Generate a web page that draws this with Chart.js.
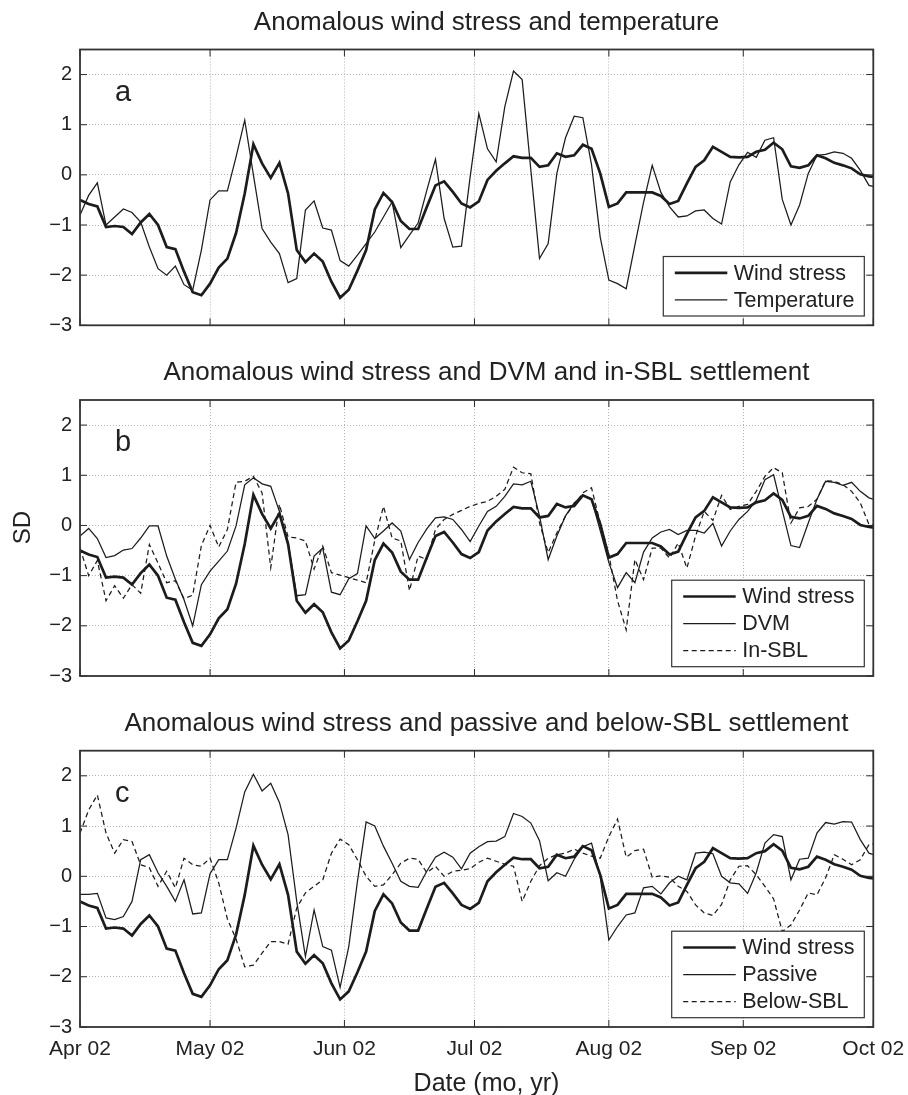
<!DOCTYPE html>
<html><head><meta charset="utf-8">
<script src="https://cdn.jsdelivr.net/npm/chart.js@4.4.1/dist/chart.umd.min.js"></script>
<style>
html,body{margin:0;padding:0;background:#fff;}
#wrap{position:relative;width:908px;height:1095px;overflow:hidden;background:#fff;}
canvas{position:absolute;left:0;}
</style></head><body>
<div id="wrap">
<canvas id="pa" width="908" height="345" style="top:0px"></canvas>
<canvas id="pb" width="908" height="345" style="top:350px"></canvas>
<canvas id="pc" width="908" height="395" style="top:700px"></canvas>
</div>
<script>
// ---- data (days since Apr 1 2002, sampled every 2 days) ----
const days = [0,2,4,6,8,10,12,14,16,18,20,22,24,26,28,30,32,34,36,38,40,42,44,46,48,50,52,54,56,58,
  60,62,64,66,68,70,72,74,76,78,80,82,84,86,88,90,92,94,96,98,100,102,104,106,108,110,112,114,116,118,
  120,122,124,126,128,130,132,134,136,138,140,142,144,146,148,150,152,154,156,158,160,162,164,166,168,170,
  172,174,176,178,180,182,184];

const windStress = [-0.50,-0.58,-0.63,-1.04,-1.02,-1.04,-1.18,-0.95,-0.78,-1.00,
  -1.44,-1.48,-1.93,-2.34,-2.40,-2.17,-1.85,-1.67,-1.16,-0.37,
  0.61,0.23,-0.06,0.24,-0.37,-1.50,-1.74,-1.57,-1.73,-2.13,
  -2.45,-2.29,-1.91,-1.50,-0.69,-0.36,-0.54,-0.92,-1.08,-1.08,
  -0.64,-0.21,-0.13,-0.34,-0.57,-0.65,-0.53,-0.10,0.08,0.23,
  0.37,0.34,0.34,0.16,0.19,0.43,0.36,0.39,0.60,0.52,
  0.03,-0.64,-0.57,-0.35,-0.35,-0.35,-0.35,-0.42,-0.58,-0.52,
  -0.17,0.16,0.29,0.56,0.46,0.36,0.35,0.36,0.46,0.50,
  0.64,0.51,0.17,0.14,0.19,0.39,0.33,0.24,0.19,0.13,
  0.01,-0.03,-0.05];

const temperature = [-0.80,-0.41,-0.16,-1.00,-0.84,-0.68,-0.75,-0.94,-1.44,-1.87,
  -2.00,-1.82,-2.19,-2.30,-1.50,-0.50,-0.32,-0.32,0.36,1.09,
  0.00,-1.07,-1.34,-1.57,-2.15,-2.07,-0.70,-0.52,-1.06,-1.10,
  -1.71,-1.82,-1.60,-1.37,-1.14,-0.84,-0.54,-1.45,-1.20,-0.96,
  -0.31,0.31,-0.87,-1.44,-1.42,-0.04,1.22,0.52,0.26,1.36,
  2.07,1.90,0.10,-1.67,-1.37,0.03,0.74,1.17,1.14,0.20,
  -1.24,-2.10,-2.17,-2.27,-1.40,-0.55,0.19,-0.35,-0.64,-0.84,
  -0.82,-0.72,-0.70,-0.87,-0.98,-0.14,0.20,0.45,0.35,0.69,
  0.74,-0.49,-1.00,-0.60,0.03,0.39,0.41,0.46,0.43,0.33,
  0.09,-0.21,-0.25];

const dvm = [-0.21,-0.06,-0.26,-0.64,-0.60,-0.49,-0.46,-0.25,-0.01,-0.01,
  -0.61,-1.07,-1.48,-2.00,-1.18,-0.91,-0.71,-0.51,-0.01,0.81,
  0.95,0.83,0.78,0.28,-0.34,-1.40,-1.38,-0.61,-0.45,-1.33,
  -1.38,-1.06,-0.96,-0.01,-0.26,-0.11,0.05,-0.11,-0.68,-0.34,
  -0.07,0.15,0.17,0.12,-0.08,-0.32,-0.01,0.28,0.38,0.58,
  0.83,0.81,0.88,0.19,-0.68,-0.21,0.19,0.45,0.60,0.52,
  -0.10,-0.74,-1.24,-0.94,-1.14,-0.53,-0.25,-0.13,-0.08,-0.18,
  -0.10,-0.10,-0.15,0.04,-0.41,-0.11,0.12,0.28,0.50,0.91,
  1.01,0.30,-0.40,-0.44,0.05,0.52,0.88,0.86,0.80,0.86,
  0.68,0.55,0.50];

const inSbl = [-0.45,-1.00,-0.70,-1.50,-1.20,-1.45,-1.18,-1.35,-0.38,-0.75,
  -1.14,-1.10,-1.46,-1.39,-0.40,0.00,-0.43,-0.08,0.86,0.88,
  0.98,0.65,-0.84,0.42,-0.23,-0.25,-0.31,-0.87,-0.41,-0.94,
  -0.99,-1.04,-1.09,-1.14,-0.30,0.38,-0.25,-0.31,-1.30,-0.61,
  -0.68,-0.08,0.12,0.22,0.30,0.38,0.44,0.48,0.58,0.72,
  1.16,1.05,1.03,0.05,-0.54,-0.15,0.19,0.42,0.65,0.75,
  0.05,-0.58,-1.50,-2.08,-0.68,-1.08,-0.45,-0.45,-0.65,-0.35,
  -0.85,-0.21,0.28,0.10,0.60,0.32,0.38,0.42,0.68,0.98,
  1.15,1.05,0.05,0.35,0.38,0.52,0.89,0.88,0.81,0.68,
  0.45,0.02,0.00];

const passive = [-0.36,-0.36,-0.34,-0.83,-0.86,-0.80,-0.50,0.33,0.43,0.07,
  -0.20,-0.50,-0.07,-0.75,-0.73,0.05,0.33,0.33,0.96,1.68,
  2.03,1.70,1.85,1.47,0.83,-0.50,-1.60,-0.67,-1.40,-1.47,
  -2.21,-1.40,-0.10,1.08,1.00,0.60,0.26,-0.10,-0.20,-0.22,
  0.10,0.38,0.48,0.38,0.15,0.46,0.59,0.69,0.70,0.79,
  1.25,1.19,1.06,0.71,-0.09,0.07,0.00,0.34,0.59,0.66,
  0.00,-1.27,-1.00,-0.77,-0.73,-0.23,-0.20,-0.35,-0.13,0.00,
  -0.07,0.46,0.48,0.45,0.00,-0.13,-0.15,-0.34,0.07,0.66,
  0.83,0.79,-0.07,0.34,0.36,0.86,1.07,1.04,1.09,1.08,
  0.73,0.46,0.40];

const belowSbl = [0.86,1.32,1.62,0.86,0.46,0.73,0.69,0.23,0.17,-0.20,
  0.10,-0.23,0.36,0.23,0.20,0.36,-0.13,-0.85,-1.25,-1.80,
  -1.77,-1.53,-1.30,-1.30,-1.35,-0.63,-0.33,-0.20,-0.07,0.46,
  0.74,0.63,0.33,0.00,-0.20,-0.17,0.03,0.26,0.36,0.34,
  0.07,0.20,0.00,0.10,0.12,0.15,0.28,0.36,0.30,0.24,
  0.20,-0.50,-0.10,0.21,0.36,0.43,0.46,0.54,0.46,0.40,
  0.36,0.79,1.14,0.38,0.51,0.54,-0.02,0.01,-0.02,-0.20,
  -0.30,-0.57,-0.73,-0.78,-0.56,-0.07,0.20,0.21,0.03,-0.20,
  -0.45,-1.10,-0.97,-0.67,-0.33,-0.37,-0.03,0.43,0.34,0.23,
  0.33,0.63,0.65];

const monthTickDays = [0,30,61,91,122,153,183];
const monthTickLabels = ['Apr 02','May 02','Jun 02','Jul 02','Aug 02','Sep 02','Oct 02'];
const yTickValues = [-3,-2,-1,0,1,2];
const panelTitles = ['Anomalous wind stress and temperature',
  'Anomalous wind stress and DVM and in-SBL settlement',
  'Anomalous wind stress and passive and below-SBL settlement'];
const panelLetters = ['a','b','c'];
const seriesNames = {wind:'Wind stress', temp:'Temperature', dvm:'DVM', insbl:'In-SBL', passive:'Passive', below:'Below-SBL'};
const xAxisTitle = 'Date (mo, yr)';
const yAxisTitle = 'SD';

// ---- styling ----
const FONT = '"Liberation Sans", Arial, Helvetica, sans-serif';
const INK = '#1c1c1c';
const STYLE_THICK = {borderWidth: 2.7, borderDash: []};
const STYLE_THIN = {borderWidth: 1.25, borderDash: []};
const STYLE_DASH = {borderWidth: 1.25, borderDash: [5, 3.5]};

const decor = {
  id: 'decor',
  afterDraw(chart, args, o) {
    const ctx = chart.ctx, a = chart.chartArea;
    const xs = chart.scales.x, ys = chart.scales.y;
    ctx.save();
    ctx.setLineDash([]);
    // inward ticks
    ctx.strokeStyle = '#2a2a2a'; ctx.lineWidth = 1;
    ctx.beginPath();
    xs.ticks.forEach(t => {
      const px = xs.getPixelForValue(t.value);
      ctx.moveTo(px, a.bottom); ctx.lineTo(px, a.bottom - 7);
      ctx.moveTo(px, a.top); ctx.lineTo(px, a.top + 7);
    });
    ys.ticks.forEach(t => {
      const py = ys.getPixelForValue(t.value);
      ctx.moveTo(a.left, py); ctx.lineTo(a.left + 7, py);
      ctx.moveTo(a.right, py); ctx.lineTo(a.right - 7, py);
    });
    ctx.stroke();
    // frame
    ctx.lineWidth = 1.8; ctx.strokeStyle = '#333';
    ctx.strokeRect(a.left, a.top, a.right - a.left, a.bottom - a.top);
    // title
    ctx.fillStyle = '#222';
    ctx.font = '26px ' + FONT;
    ctx.textAlign = 'center'; ctx.textBaseline = 'alphabetic';
    ctx.fillText(o.title, o.titleX, a.top - 20);
    // panel letter
    ctx.font = '29px ' + FONT;
    ctx.textAlign = 'left';
    ctx.fillText(o.letter, a.left + 35, a.top + 51);
    // legend
    const ds = chart.data.datasets;
    const n = ds.length;
    const bh = 27 * n + 5.5;
    const bx1 = a.right - 9 - o.legendWidth, by2 = a.bottom - 9.3, by1 = by2 - bh;
    ctx.fillStyle = '#fff';
    ctx.fillRect(bx1, by1, o.legendWidth, bh);
    ctx.lineWidth = 1.2; ctx.strokeStyle = '#333';
    ctx.strokeRect(bx1, by1, o.legendWidth, bh);
    ctx.font = '21.5px ' + FONT;
    ctx.textBaseline = 'middle';
    ds.forEach((d, k) => {
      const ry = by1 + 16.3 + 27 * k;
      ctx.save();
      ctx.strokeStyle = INK; ctx.lineWidth = d.borderWidth;
      ctx.setLineDash(d.borderDash || []);
      ctx.beginPath(); ctx.moveTo(bx1 + 11.5, ry); ctx.lineTo(bx1 + 64, ry); ctx.stroke();
      ctx.restore();
      ctx.fillStyle = '#222';
      ctx.fillText(d.label, bx1 + 70.5, ry + 1);
    });
    // extra axis titles
    if (o.yTitle) {
      ctx.save();
      ctx.translate(23, o.yTitleY);
      ctx.rotate(-Math.PI / 2);
      ctx.font = '24px ' + FONT; ctx.textAlign = 'center'; ctx.textBaseline = 'middle';
      ctx.fillStyle = '#222';
      ctx.fillText(o.yTitle, 0, 0);
      ctx.restore();
    }
    if (o.xTitle) {
      ctx.font = '25px ' + FONT; ctx.textAlign = 'center'; ctx.textBaseline = 'alphabetic';
      ctx.fillStyle = '#222';
      ctx.fillText(o.xTitle, o.titleX, o.xTitleY);
    }
    ctx.restore();
  }
};

function makePanel(canvasId, k, series, layoutPad, xHeight, showXLabels, legendWidth, extra) {
  const datasets = series.map(s => Object.assign({
    label: s.label,
    data: days.map((d, i) => ({x: d, y: s.values[i]})),
    borderColor: INK, backgroundColor: INK,
    pointRadius: 0, pointHoverRadius: 0, tension: 0, fill: false
  }, s.style));
  return new Chart(document.getElementById(canvasId), {
    type: 'line',
    data: {datasets},
    plugins: [decor],
    options: {
      responsive: false, animation: false, devicePixelRatio: 1,
      layout: {padding: layoutPad},
      events: [],
      plugins: {
        legend: {display: false}, tooltip: {enabled: false}, title: {display: false},
        decor: Object.assign({title: panelTitles[k], letter: panelLetters[k], titleX: 486.5, legendWidth}, extra)
      },
      scales: {
        x: {
          type: 'linear', min: 0, max: 183,
          afterBuildTicks: s => { s.ticks = monthTickDays.map(v => ({value: v})); },
          afterFit: s => { s.height = xHeight; s.paddingLeft = 0; s.paddingRight = 0; },
          ticks: {display: showXLabels, autoSkip: false, maxRotation: 0, padding: 10,
            color: '#222', font: {family: FONT, size: 21},
            callback: (v, i) => monthTickLabels[i]},
          grid: {color: '#b4b4b4', lineWidth: 1, drawTicks: false},
          border: {display: false, dash: [1, 2]}
        },
        y: {
          type: 'linear', min: -3, max: 2.5,
          afterBuildTicks: s => { s.ticks = yTickValues.map(v => ({value: v})); },
          afterFit: s => { s.width = 80; s.paddingTop = 0; s.paddingBottom = 0; },
          ticks: {padding: 8, color: '#222', font: {family: FONT, size: 20},
            callback: v => (v < 0 ? '\u2212' + Math.abs(v) : String(v))},
          grid: {color: '#b4b4b4', lineWidth: 1, drawTicks: false},
          border: {display: false, dash: [1, 2]}
        }
      }
    }
  });
}

makePanel('pa', 0, [
  {label: seriesNames.wind, values: windStress, style: STYLE_THICK},
  {label: seriesNames.temp, values: temperature, style: STYLE_THIN}
], {top: 49.5, right: 34.7, bottom: 19.7, left: 0}, 0, false, 201, {});

makePanel('pb', 1, [
  {label: seriesNames.wind, values: windStress, style: STYLE_THICK},
  {label: seriesNames.dvm, values: dvm, style: STYLE_THIN},
  {label: seriesNames.insbl, values: inSbl, style: STYLE_DASH}
], {top: 50, right: 34.7, bottom: 19, left: 0}, 0, false, 192.6, {yTitle: yAxisTitle, yTitleY: 177.5});

makePanel('pc', 2, [
  {label: seriesNames.wind, values: windStress, style: STYLE_THICK},
  {label: seriesNames.passive, values: passive, style: STYLE_THIN},
  {label: seriesNames.below, values: belowSbl, style: STYLE_DASH}
], {top: 50.7, right: 34.7, bottom: 0, left: 0}, 68, true, 192.6, {xTitle: xAxisTitle, xTitleY: 391});
</script>
</body></html>
